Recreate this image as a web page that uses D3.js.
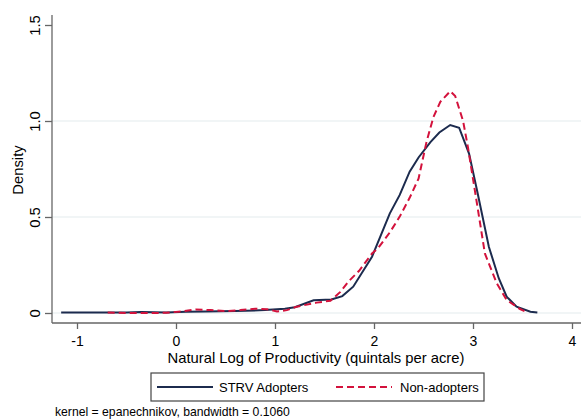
<!DOCTYPE html>
<html><head><meta charset="utf-8">
<script src="https://cdn.jsdelivr.net/npm/d3@7/dist/d3.min.js"></script>
<style>body{margin:0;background:#fff}svg{display:block}text{font-family:"Liberation Sans",Arial,sans-serif;fill:#000}</style>
</head><body>
<script>
const adoptersX = [-1.16,-0.8,-0.5,-0.35,-0.1,0.1,0.3,0.6,0.9,1.1,1.2,1.39,1.57,1.68,1.79,1.98,2.16,2.26,2.36,2.45,2.57,2.66,2.77,2.86,2.96,3.04,3.16,3.26,3.34,3.44,3.58,3.65];
const adoptersY = [0.002,0.002,0.003,0.005,0.002,0.006,0.008,0.010,0.015,0.022,0.03,0.066,0.07,0.088,0.137,0.293,0.519,0.615,0.736,0.81,0.89,0.94,0.979,0.965,0.83,0.641,0.345,0.181,0.085,0.033,0.007,0.003];
const nonX = [-0.69,-0.5,-0.3,-0.1,0.05,0.2,0.35,0.5,0.65,0.8,0.92,1.02,1.12,1.22,1.42,1.56,1.66,1.74,1.85,1.98,2.04,2.16,2.26,2.36,2.45,2.53,2.6,2.67,2.77,2.82,2.9,2.95,3.04,3.12,3.24,3.34,3.47,3.52];
const nonY = [0.003,0.0,0.0,0.001,0.008,0.018,0.015,0.01,0.015,0.022,0.02,0.008,0.015,0.033,0.054,0.064,0.11,0.163,0.22,0.31,0.337,0.42,0.502,0.60,0.70,0.89,1.02,1.10,1.155,1.13,1.0,0.86,0.57,0.31,0.155,0.068,0.022,0.01];
const xTicks = [-1,0,1,2,3,4];
const xTickLabels = ["-1","0","1","2","3","4"];
const yTicks = [0,0.5,1.0,1.5];
const yTickLabels = ["0","0.5","1.0","1.5"];
const yGrid = [0,0.5,1.0];

const W=581,H=419;
const svg=d3.select("body").append("svg").attr("width",W).attr("height",H);
const x=d3.scaleLinear().domain([-1,4]).range([77,572]);
const y=d3.scaleLinear().domain([0,1.5]).range([313,25]);
const axisY=323, axisX=52;
const FONT="'Liberation Sans',Arial,sans-serif";
const FS=14.8;

// gridlines
svg.append("g").selectAll("line").data(yGrid).join("line")
  .attr("x1",axisX).attr("x2",W).attr("y1",d=>y(d)).attr("y2",d=>y(d))
  .attr("stroke","#e4ecee").attr("stroke-width",1.2);

// x axis
const gx=svg.append("g").attr("transform",`translate(0,${axisY})`)
  .call(d3.axisBottom(x).tickValues(xTicks).tickSize(6).tickFormat((d,i)=>xTickLabels[i]));
gx.select(".domain").remove();
gx.append("line").attr("x1",axisX).attr("x2",W).attr("stroke","#666").attr("stroke-width",1.3);
gx.selectAll(".tick line").attr("stroke","#666").attr("stroke-width",1.3);
gx.selectAll(".tick text").attr("font-size",14).style("font-family",FONT).attr("fill","#000")
  .attr("y",22.5).attr("dy",null);

// y axis
const gy=svg.append("g").attr("transform",`translate(${axisX},0)`)
  .call(d3.axisLeft(y).tickValues(yTicks).tickSize(7).tickFormat((d,i)=>yTickLabels[i]));
gy.select(".domain").remove();
gy.append("line").attr("y1",15).attr("y2",axisY).attr("stroke","#666").attr("stroke-width",1.3);
gy.selectAll(".tick line").attr("stroke","#666").attr("stroke-width",1.3);
gy.selectAll(".tick text").attr("font-size",FS).style("font-family",FONT).attr("fill","#000")
  .attr("x",0).attr("dy",null).attr("text-anchor","middle").attr("dominant-baseline","central")
  .attr("transform","translate(-17,0) rotate(-90)");

// titles
svg.append("text").attr("x",18).attr("y",170).attr("font-size",FS).attr("text-anchor","middle")
  .attr("dominant-baseline","central").attr("transform","rotate(-90,18,170)").text("Density");
svg.append("text").attr("x",316).attr("y",363).attr("font-size",FS).attr("text-anchor","middle")
  .text("Natural Log of Productivity (quintals per acre)");

// lines
const line=d3.line().x(d=>x(d[0])).y(d=>y(d[1]));
svg.append("path").datum(adoptersX.map((v,i)=>[v,adoptersY[i]])).attr("d",line)
  .attr("fill","none").attr("stroke","#1c2b4e").attr("stroke-width",2);
svg.append("path").datum(nonX.map((v,i)=>[v,nonY[i]])).attr("d",line)
  .attr("fill","none").attr("stroke","#d3123c").attr("stroke-width",2).attr("stroke-dasharray","7,4");

// legend
const lg=svg.append("g");
lg.append("rect").attr("x",151).attr("y",373).attr("width",333).attr("height",28)
  .attr("fill","#fff").attr("stroke","#444").attr("stroke-width",1.2);
lg.append("line").attr("x1",157).attr("x2",213).attr("y1",387).attr("y2",387).attr("stroke","#1c2b4e").attr("stroke-width",2);
lg.append("text").attr("x",219).attr("y",387).attr("font-size",13).attr("dominant-baseline","central").text("STRV Adopters");
lg.append("line").attr("x1",336).attr("x2",392).attr("y1",387).attr("y2",387).attr("stroke","#d3123c").attr("stroke-width",2).attr("stroke-dasharray","7,4");
lg.append("text").attr("x",400).attr("y",387).attr("font-size",13).attr("dominant-baseline","central").text("Non-adopters");

svg.append("text").attr("x",55).attr("y",412).attr("font-size",12.2).attr("dominant-baseline","central")
  .text("kernel = epanechnikov, bandwidth = 0.1060");
</script>
</body></html>
